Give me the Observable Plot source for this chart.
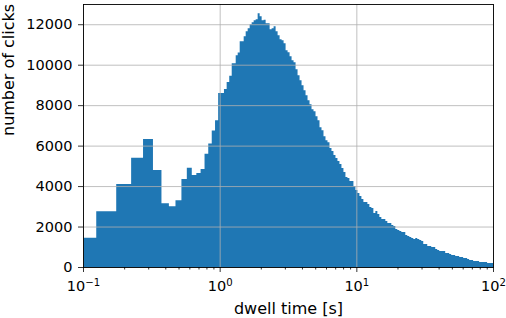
<!DOCTYPE html>
<html>
<head>
<meta charset="utf-8">
<script src="https://cdn.jsdelivr.net/npm/d3@7"></script>
<script src="https://cdn.jsdelivr.net/npm/@observablehq/plot@0.6"></script>
<style>
  html, body { margin: 0; padding: 0; background: white; }
</style>
</head>
<body>
<div id="chart"></div>
<script>
// Left part: bins of the 0.05 s quantised dwell times (edges in seconds)
const leftEdges = [0.1, 0.125, 0.175, 0.225, 0.275, 0.325, 0.375, 0.425, 0.475, 0.525, 0.575,
  0.625, 0.675, 0.725, 0.775, 0.825, 0.875, 0.925, 0.975, 1.075, 1.125, 1.175, 1.225];
const leftCounts = [1450, 2750, 4100, 5400, 6330, 4800, 3150, 3000, 3300, 4350, 4900,
  4550, 4650, 4850, 5600, 6100, 6750, 7250, 8600, 8800, 9150, 9450];

// Right part: log-spaced bins starting at 1.225 s
const rightStart = 1.225;
const binsPerDecade = 68.5;
const rightCounts = [
  10074, 10074, 10469, 10600, 11160, 11160, 11400, 11654, 11800, 12000,
  12100, 12197, 12246, 12543, 12400, 12197, 12220, 12049, 12049, 11752,
  11802, 11901, 11654, 11456, 11259, 11209, 11061, 10715, 10617, 10419,
  10222, 10123, 9777, 9480, 9234, 8987, 8740, 8493, 8246, 8049,
  7802, 7703, 7456, 7259, 6913, 6765, 6469, 6270, 6172, 5876,
  5728, 5531, 5383, 5234, 5086, 4889, 4691, 4444, 4395, 4247,
  4247, 4000, 3802, 3654, 3506, 3358, 3210, 3210, 3111, 2963,
  2913, 2667, 2765, 2617, 2469, 2370, 2370, 2271, 2173, 2173,
  2074, 2025, 1876, 1827, 1778, 1728, 1728, 1580, 1531, 1481,
  1432, 1383, 1432, 1383, 1333, 1284, 1136, 1136, 1037, 1037,
  988, 988, 889, 839, 790, 790, 790, 691, 691, 642,
  593, 593, 543, 543, 494, 494, 444, 444, 395, 346,
  346, 296, 296, 296, 247, 247, 247, 247, 198, 198, 198];

const majorXTicks = [0.1, 1, 10, 100];
const minorXTicks = [0.2, 0.3, 0.4, 0.5, 0.6, 0.7, 0.8, 0.9,
  2, 3, 4, 5, 6, 7, 8, 9, 20, 30, 40, 50, 60, 70, 80, 90];
const yTicks = [0, 2000, 4000, 6000, 8000, 10000, 12000];
const xLabel = "dwell time [s]";
const yLabel = "number of clicks";

// Build step points (left edge, count) for a step-after area
const pts = [];
leftCounts.forEach((c, i) => pts.push({x: leftEdges[i], y: c}));
rightCounts.forEach((c, k) => pts.push({x: rightStart * Math.pow(10, k / binsPerDecade), y: c}));
pts.push({x: rightStart * Math.pow(10, rightCounts.length / binsPerDecade), y: rightCounts[rightCounts.length - 1]});

const blue = "#1f77b4";
const gridColor = "#b0b0b0";

const chart = Plot.plot({
  width: 506,
  height: 318,
  marginLeft: 83,
  marginRight: 13,
  marginTop: 4,
  marginBottom: 51,
  style: {fontFamily: "'DejaVu Sans', sans-serif", fontSize: "14.5px", color: "black", background: "white", overflow: "visible"},
  x: {type: "log", domain: [0.1, 100], label: null},
  y: {domain: [0, 13000], label: null},
  marks: [
    Plot.areaY(pts, {x: "x", y: "y", curve: "step-after", fill: blue, clip: true}),
    Plot.gridX(majorXTicks, {stroke: gridColor, strokeOpacity: 1, strokeWidth: 0.8}),
    Plot.gridY(yTicks, {stroke: gridColor, strokeOpacity: 1, strokeWidth: 0.8}),
    Plot.axisX(minorXTicks, {tickSize: 2.5, tickFormat: () => "", label: null, strokeWidth: 0.8}),
    Plot.axisX(majorXTicks, {tickSize: 5, tickPadding: 8, label: null, strokeWidth: 0.8,
      tickFormat: d => "10^" + String(Math.round(Math.log10(d))).replace("-", "\u2212")}),
    Plot.axisY(yTicks, {tickSize: 5, tickPadding: 6, label: null, strokeWidth: 0.8, tickFormat: d => String(d)}),
    Plot.frame({stroke: "black", strokeWidth: 0.9}),
    Plot.text([xLabel], {frameAnchor: "bottom", dy: 41, fontSize: 16, lineAnchor: "middle", text: d => d}),
    Plot.text([yLabel], {frameAnchor: "left", dx: -75, rotate: -90, fontSize: 16, lineAnchor: "middle", text: d => d})
  ]
});

// Render exponent tick labels as superscripts
chart.querySelectorAll('g[aria-label="x-axis tick label"] text').forEach(t => {
  const s = t.textContent;
  if (!s.includes("^")) return;
  const [base, exp] = s.split("^");
  while (t.firstChild) t.removeChild(t.firstChild);
  const ns = "http://www.w3.org/2000/svg";
  const b = document.createElementNS(ns, "tspan");
  b.textContent = base;
  const e = document.createElementNS(ns, "tspan");
  e.textContent = exp;
  e.setAttribute("dy", "-0.45em");
  e.setAttribute("font-size", "70%");
  t.appendChild(b);
  t.appendChild(e);
});

document.getElementById("chart").appendChild(chart);
</script>
</body>
</html>
